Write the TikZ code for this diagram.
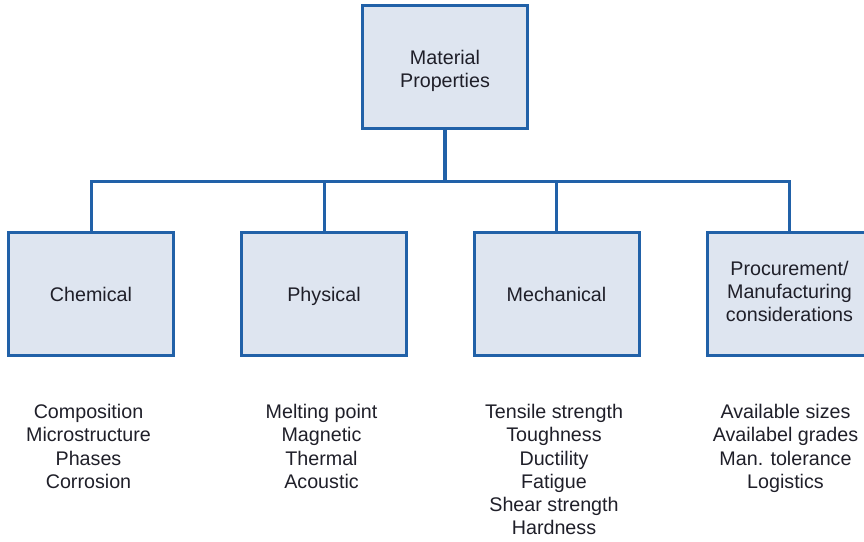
\documentclass[tikz,border=0pt]{standalone}
\usepackage{fontspec}
\setmainfont{Liberation Sans}
\usepackage{tikz}
\definecolor{boxblue}{rgb}{0.13,0.38,0.66}
\definecolor{boxfill}{rgb}{0.87,0.90,0.94}
\definecolor{txtgray}{rgb}{0.12,0.12,0.16}

\begin{document}
\begin{tikzpicture}[x=1pt,y=-1pt,
  propbox/.style={draw=boxblue,fill=boxfill,line width=3pt,minimum width=165pt,
    minimum height=123pt,align=center,text=txtgray,font=\fontsize{19.7}{23.3}\selectfont,
    execute at begin node=\rule{0pt}{21pt},execute at end node=\rule[-4.5pt]{0pt}{0pt}},
  proplist/.style={anchor=north,inner sep=0pt,align=center,text=txtgray,
    font=\fontsize{19.7}{23.3}\selectfont},
  link/.style={boxblue,line width=3pt}]
  \useasboundingbox (0,0) rectangle (864,541);
  \begin{scope}
  \clip (0,0) rectangle (864,541);
  \node[propbox] (mat)  at (445,67)    {\rule{0pt}{22pt}Material\\Properties};
  \node[propbox] (chem) at (91,293.5)  {Chemical};
  \node[propbox] (phys) at (324,293.5) {Physical};
  \node[propbox] (mech) at (556.5,293.5) {Mechanical};
  \node[propbox] (proc) at (789.5,293.5) {Procurement/\\Manufacturing\\considerations};
  \coordinate (bus) at (445,181);
  \draw[link,line width=4pt] (mat) -- (bus);
  \draw[link] (chem.north) |- (bus) -| (proc.north);
  \draw[link] (phys.north) -- (phys.north |- bus);
  \draw[link] (mech.north) -- (mech.north |- bus);
  \end{scope}
  \node[proplist] (chemlist) at (88.5,404) {Composition\\Microstructure\\Phases\\Corrosion};
  \node[proplist] (physlist) at (321.5,404) {Melting point\\Magnetic\\Thermal\\Acoustic};
  \node[proplist] (mechlist) at (554,404) {Tensile strength\\Toughness\\Ductility\\Fatigue\\Shear strength\\Hardness};
  \node[proplist] (proclist) at (785.5,404) {Available sizes\\Availabel grades\\Man. tolerance\\Logistics};
\end{tikzpicture}
\end{document}
